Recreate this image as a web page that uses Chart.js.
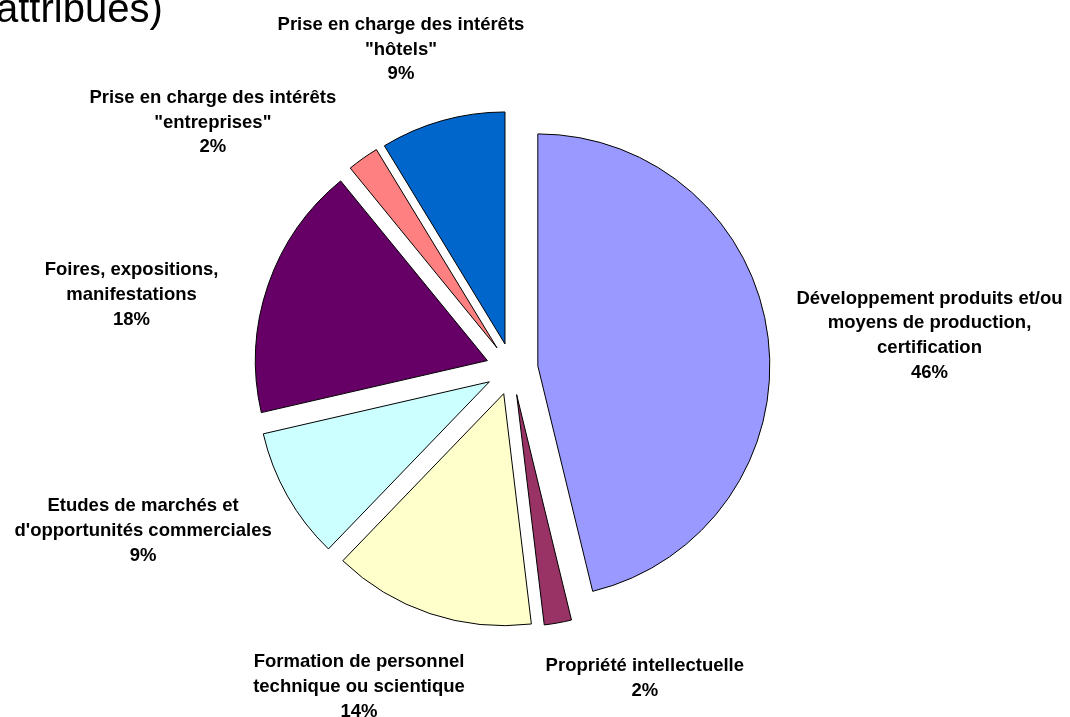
<!DOCTYPE html>
<html>
<head>
<meta charset="utf-8">
<script src="https://cdn.jsdelivr.net/npm/chart.js@4.4.1/dist/chart.umd.min.js"></script>
<style>
  html, body { margin: 0; padding: 0; background: #fff; }
  #wrap { width: 1070px; height: 717px; position: relative; }
</style>
</head>
<body>
<div id="wrap"><canvas id="piechart"></canvas></div>
<script>
const categories = [
  ["Développement produits et/ou", "moyens de production,", "certification"],
  ["Propriété intellectuelle"],
  ["Formation de personnel", "technique ou scientique"],
  ["Etudes de marchés et", "d'opportunités commerciales"],
  ["Foires, expositions,", "manifestations"],
  ["Prise en charge des intérêts", "\"entreprises\""],
  ["Prise en charge des intérêts", "\"hôtels\""],
];
const shares = [46.2, 1.9, 14.1, 9.2, 17.7, 2.2, 8.7];
const sliceColors = ["#9999FF", "#993366", "#FFFFCC", "#CCFFFF", "#660066", "#FF8080", "#0066CC"];

const titleTail = "attribués)";
const explode = 26;
const FONT = "'Liberation Sans', Arial, sans-serif";

// where each label sits: turn (deg) from the slice middle, distance from pie centre
const labelLayout = [
  { turn: 2.0, dist: 419 },
  { turn: -13.1, dist: 335 },
  { turn: 7.3, dist: 351 },
  { turn: 6.1, dist: 402 },
  { turn: -7.6, dist: 388 },
  { turn: -15.0, dist: 389 },
  { turn: -3.4, dist: 340 },
];

const total = shares.reduce((a, b) => a + b, 0);

// draws each slice pushed out along its middle angle
const explodePlugin = {
  id: "explode",
  beforeDatasetDraw(chart, args) {
    const ctx = chart.ctx;
    args.meta.data.forEach((arc) => {
      const p = arc.getProps(["startAngle", "endAngle"], true);
      const mid = (p.startAngle + p.endAngle) / 2;
      ctx.save();
      ctx.translate(Math.cos(mid) * explode, Math.sin(mid) * explode);
      arc.draw(ctx);
      ctx.restore();
    });
    return false;
  },
};

const labelPlugin = {
  id: "sliceLabels",
  afterDatasetsDraw(chart) {
    const ctx = chart.ctx;
    const meta = chart.getDatasetMeta(0);
    ctx.save();
    ctx.font = "bold 18.5px " + FONT;
    ctx.fillStyle = "#000";
    ctx.textAlign = "center";
    ctx.textBaseline = "middle";
    meta.data.forEach((arc, i) => {
      const p = arc.getProps(["x", "y", "startAngle", "endAngle"], true);
      const mid = (p.startAngle + p.endAngle) / 2 + (labelLayout[i].turn * Math.PI) / 180;
      const cx = p.x + Math.cos(mid) * labelLayout[i].dist;
      const cy = p.y + Math.sin(mid) * labelLayout[i].dist + 2;
      const lines = categories[i].concat([Math.round((shares[i] / total) * 100) + "%"]);
      const lh = 24.7;
      const y0 = cy - ((lines.length - 1) * lh) / 2;
      lines.forEach((t, k) => ctx.fillText(t, cx, y0 + k * lh));
    });
    // tail of the title, cut by the top edge
    ctx.font = "40px " + FONT;
    ctx.textAlign = "left";
    ctx.textBaseline = "alphabetic";
    ctx.fillText(titleTail, -4, 22);
    ctx.restore();
  },
};

const ctx = document.getElementById("piechart").getContext("2d");
new Chart(ctx, {
  type: "pie",
  data: {
    labels: categories,
    datasets: [
      {
        data: shares,
        backgroundColor: sliceColors,
        borderColor: "#000",
        borderWidth: 1,
      },
    ],
  },
  options: {
    responsive: true,
    maintainAspectRatio: false,
    animation: false,
    radius: 232,
    layout: {
      padding: { top: 121, bottom: 100, left: 100, right: 146 },
    },
    plugins: {
      legend: { display: false },
      tooltip: { enabled: false },
      title: { display: false },
    },
  },
  plugins: [explodePlugin, labelPlugin],
});
</script>
</body>
</html>
